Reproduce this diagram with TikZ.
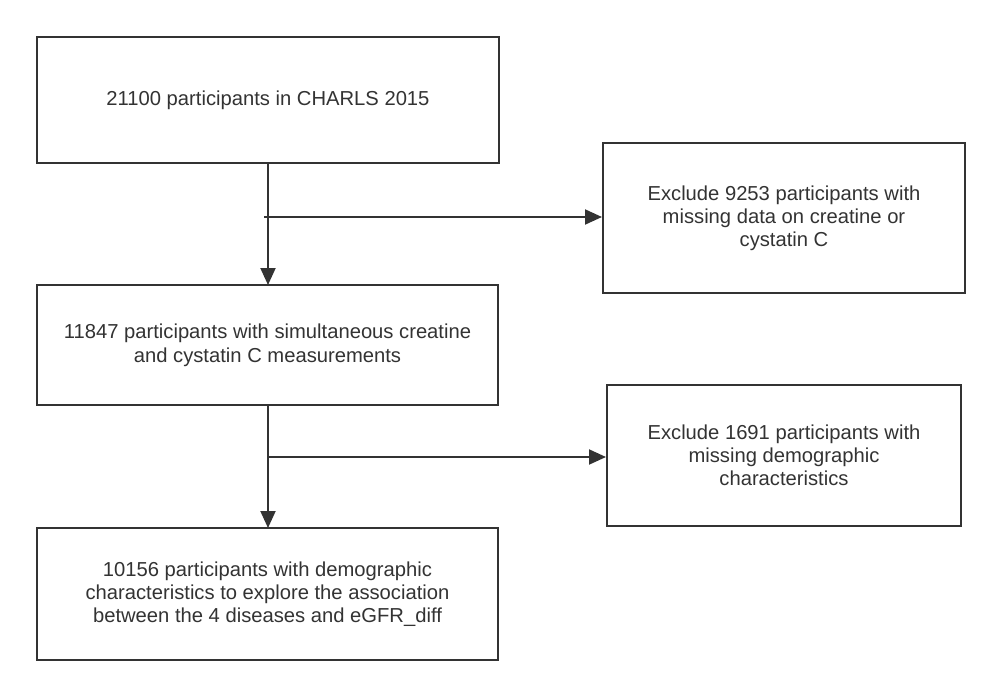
\documentclass[tikz,border=0pt]{standalone}
\usepackage{fontspec}
\setmainfont{Liberation Sans}
\usetikzlibrary{arrows.meta}
\definecolor{ink}{HTML}{333333}
\begin{document}
\begin{tikzpicture}[x=1pt,y=-1pt,
  box/.style={draw=ink, line width=2pt, fill=white, align=center, text=ink,
    font=\fontsize{20.2}{23}\selectfont, inner sep=0pt},
  conn/.style={draw=ink, line width=2pt},
  arr/.style={conn, -{Triangle[length=17pt,width=15pt]}}]
\useasboundingbox (0,0) rectangle (1002,698);
\node[box, minimum width=462pt, minimum height=126pt] (b1) at (268,100) {21100 participants in CHARLS 2015};
\node[box, minimum width=362pt, minimum height=150pt] (b2) at (784,218) {Exclude 9253 participants with\\missing data on creatine or\\cystatin C};
\node[box, minimum width=461pt, minimum height=120pt, font=\fontsize{20.2}{24}\selectfont] (b3) at (267.5,345) {11847 participants with simultaneous creatine\\and cystatin C measurements};
\node[box, minimum width=354pt, minimum height=141pt] (b4) at (784,455.5) {Exclude 1691 participants with\\missing demographic\\characteristics};
\node[box, minimum width=461pt, minimum height=132pt] (b5) at (267.5,594) {10156 participants with demographic\\characteristics to explore the association\\between the 4 diseases and eGFR\_diff};
\coordinate (j1) at (264,217);
\coordinate (j2) at (268,457);
\draw[arr] (268,163) -- (268,285);
\draw[arr] (j1) -- (b2.west |- j1);
\draw[arr] (268,405) -- (268,528);
\draw[arr] (j2) -- (b4.west |- j2);
\end{tikzpicture}
\end{document}
